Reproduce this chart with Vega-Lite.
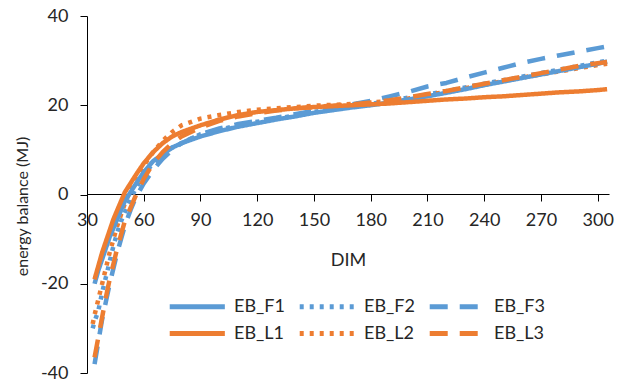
{
  "$schema": "https://vega.github.io/schema/vega-lite/v6.json",
  "width": 522,
  "height": 357,
  "autosize": "none",
  "padding": {"left": 87, "top": 16, "right": 10, "bottom": 6},
  "background": "white",
  "config": {
    "view": {"stroke": null},
    "font": "Lato",
    "axis": {"labelFont": "Lato", "titleFont": "Lato", "labelColor": "#262626", "titleColor": "#262626", "domainColor": "#000", "tickColor": "#000", "grid": false},
    "legend": {"title": null, "orient": "none", "legendX": 80, "legendY": 274, "columns": 3, "direction": "horizontal", "symbolType": "M-1,0L3,0", "symbolSize": 760, "symbolStrokeWidth": 5, "labelFontSize": 18, "labelFont": "Lato", "labelColor": "#262626", "columnPadding": 4, "rowPadding": 0, "labelOffset": 34, "padding": 0}
  },
  "data": {
    "values": [
      {"d": 33, "EB_F2": -30, "EB_L2": -29},
      {"d": 34, "EB_F1": -20, "EB_F2": -28.5, "EB_F3": -38, "EB_L1": -19, "EB_L2": -27, "EB_L3": -36.5},
      {"d": 36, "EB_F1": -17, "EB_F2": -26, "EB_F3": -33, "EB_L1": -16, "EB_L2": -23.5, "EB_L3": -32},
      {"d": 38, "EB_F1": -14.5, "EB_F2": -22, "EB_F3": -28, "EB_L1": -13, "EB_L2": -20, "EB_L3": -27.5},
      {"d": 40, "EB_F1": -12, "EB_F2": -18.5, "EB_F3": -24, "EB_L1": -10.5, "EB_L2": -16.5, "EB_L3": -23},
      {"d": 42, "EB_F1": -9.5, "EB_F2": -15, "EB_F3": -20, "EB_L1": -8, "EB_L2": -13, "EB_L3": -19},
      {"d": 44, "EB_F1": -7.5, "EB_F2": -11.5, "EB_F3": -16.5, "EB_L1": -5.5, "EB_L2": -10, "EB_L3": -15.5},
      {"d": 46, "EB_F1": -5.5, "EB_F2": -8.5, "EB_F3": -13, "EB_L1": -3.5, "EB_L2": -7, "EB_L3": -12},
      {"d": 48, "EB_F1": -3.5, "EB_F2": -6, "EB_F3": -10, "EB_L1": -1.5, "EB_L2": -4.5, "EB_L3": -9},
      {"d": 50, "EB_F1": -1.5, "EB_F2": -4, "EB_F3": -7, "EB_L1": 0.5, "EB_L2": -2, "EB_L3": -6},
      {"d": 53, "EB_F1": 0.5, "EB_F2": -1, "EB_F3": -3.5, "EB_L1": 2.5, "EB_L2": 1, "EB_L3": -3},
      {"d": 56, "EB_F1": 2.5, "EB_F2": 1.5, "EB_F3": -0.5, "EB_L1": 4.5, "EB_L2": 3.5, "EB_L3": 0},
      {"d": 60, "EB_F1": 5, "EB_F2": 4.5, "EB_F3": 2.5, "EB_L1": 7, "EB_L2": 6.5, "EB_L3": 3.5},
      {"d": 65, "EB_F1": 7.5, "EB_F2": 7, "EB_F3": 5.5, "EB_L1": 9.5, "EB_L2": 9.5, "EB_L3": 7},
      {"d": 70, "EB_F1": 9, "EB_F2": 9, "EB_F3": 8, "EB_L1": 11.5, "EB_L2": 12, "EB_L3": 9.5},
      {"d": 75, "EB_F1": 10.5, "EB_F2": 10.5, "EB_F3": 10, "EB_L1": 13, "EB_L2": 14, "EB_L3": 11.5},
      {"d": 80, "EB_F1": 11.5, "EB_F2": 11.5, "EB_F3": 11.5, "EB_L1": 14, "EB_L2": 15.5, "EB_L3": 13},
      {"d": 90, "EB_F1": 13, "EB_F2": 13.5, "EB_F3": 13.5, "EB_L1": 15.5, "EB_L2": 17, "EB_L3": 15},
      {"d": 100, "EB_F1": 14.2, "EB_F2": 14.5, "EB_F3": 14.8, "EB_L1": 16.8, "EB_L2": 17.8, "EB_L3": 16.5},
      {"d": 110, "EB_F1": 15.2, "EB_F2": 15.5, "EB_F3": 15.8, "EB_L1": 17.8, "EB_L2": 18.5, "EB_L3": 17.5},
      {"d": 120, "EB_F1": 16, "EB_F2": 16.3, "EB_F3": 16.5, "EB_L1": 18.5, "EB_L2": 19, "EB_L3": 18.2},
      {"d": 130, "EB_F1": 16.8, "EB_F2": 17, "EB_F3": 17.2, "EB_L1": 18.9, "EB_L2": 19.3, "EB_L3": 18.8},
      {"d": 140, "EB_F1": 17.5, "EB_F2": 17.7, "EB_F3": 18, "EB_L1": 19.3, "EB_L2": 19.6, "EB_L3": 19.3},
      {"d": 150, "EB_F1": 18.3, "EB_F2": 18.5, "EB_F3": 18.8, "EB_L1": 19.6, "EB_L2": 19.9, "EB_L3": 19.6},
      {"d": 160, "EB_F1": 18.9, "EB_F2": 19.1, "EB_F3": 19.5, "EB_L1": 19.8, "EB_L2": 20.1, "EB_L3": 19.9},
      {"d": 170, "EB_F1": 19.5, "EB_F2": 19.7, "EB_F3": 20.2, "EB_L1": 20, "EB_L2": 20.3, "EB_L3": 20.2},
      {"d": 180, "EB_F1": 20, "EB_F2": 20.3, "EB_F3": 21, "EB_L1": 20.2, "EB_L2": 20.6, "EB_L3": 20.6},
      {"d": 190, "EB_F1": 20.6, "EB_F2": 21, "EB_F3": 22, "EB_L1": 20.4, "EB_L2": 21, "EB_L3": 21.1},
      {"d": 200, "EB_F1": 21.3, "EB_F2": 21.7, "EB_F3": 23, "EB_L1": 20.7, "EB_L2": 21.5, "EB_L3": 21.8},
      {"d": 210, "EB_F1": 22, "EB_F2": 22.4, "EB_F3": 24.2, "EB_L1": 21, "EB_L2": 22.3, "EB_L3": 22.5},
      {"d": 220, "EB_F1": 22.8, "EB_F2": 23.2, "EB_F3": 25, "EB_L1": 21.3, "EB_L2": 23, "EB_L3": 23.2},
      {"d": 230, "EB_F1": 23.6, "EB_F2": 24, "EB_F3": 26.2, "EB_L1": 21.5, "EB_L2": 23.8, "EB_L3": 24},
      {"d": 240, "EB_F1": 24.5, "EB_F2": 24.8, "EB_F3": 27.3, "EB_L1": 21.8, "EB_L2": 24.6, "EB_L3": 24.8},
      {"d": 250, "EB_F1": 25.3, "EB_F2": 25.6, "EB_F3": 28.4, "EB_L1": 22, "EB_L2": 25.4, "EB_L3": 25.6},
      {"d": 260, "EB_F1": 26.1, "EB_F2": 26.4, "EB_F3": 29.5, "EB_L1": 22.3, "EB_L2": 26.2, "EB_L3": 26.4},
      {"d": 270, "EB_F1": 26.9, "EB_F2": 27.2, "EB_F3": 30.4, "EB_L1": 22.6, "EB_L2": 26.9, "EB_L3": 27.2},
      {"d": 280, "EB_F1": 27.7, "EB_F2": 28, "EB_F3": 31.2, "EB_L1": 22.9, "EB_L2": 27.6, "EB_L3": 28},
      {"d": 290, "EB_F1": 28.5, "EB_F2": 28.8, "EB_F3": 32, "EB_L1": 23.1, "EB_L2": 28.3, "EB_L3": 28.8},
      {"d": 300, "EB_F1": 29.3, "EB_F2": 29.6, "EB_F3": 32.8, "EB_L1": 23.4, "EB_L2": 29, "EB_L3": 29.4},
      {"d": 305, "EB_F1": 29.8, "EB_F2": 30, "EB_F3": 33.2, "EB_L1": 23.6, "EB_L2": 29.3, "EB_L3": 29.7}
    ]
  },
  "transform": [
    {"fold": ["EB_F1", "EB_F2", "EB_F3", "EB_L1", "EB_L2", "EB_L3"], "as": ["series", "v"]},
    {"filter": "isValid(datum.v)"}
  ],
  "mark": {"type": "line", "strokeWidth": 4.5, "strokeCap": "butt", "strokeJoin": "round"},
  "encoding": {
    "x": {
      "field": "d", "type": "quantitative",
      "scale": {"domain": [30, 306], "nice": false, "zero": false},
      "axis": {"title": "DIM", "values": [30, 60, 90, 120, 150, 180, 210, 240, 270, 300], "offset": -179, "tickSize": 7, "labelPadding": 10, "labelFontSize": 18, "titleFontSize": 18, "titleFontWeight": "normal", "titlePadding": 22, "labelFlush": false}
    },
    "y": {
      "field": "v", "type": "quantitative",
      "scale": {"domain": [-40, 40], "nice": false},
      "axis": {"title": "energy balance (MJ)", "values": [-40, -20, 0, 20, 40], "labelExpr": "toString(datum.value)", "tickSize": 7, "labelPadding": 12, "labelFontSize": 18, "titleFontSize": 16, "titleFontWeight": "normal", "titlePadding": 10, "titleY": 190}
    },
    "color": {
      "field": "series", "type": "nominal",
      "scale": {"domain": ["EB_F1", "EB_F2", "EB_F3", "EB_L1", "EB_L2", "EB_L3"], "range": ["#5B9BD5", "#5B9BD5", "#5B9BD5", "#ED7D31", "#ED7D31", "#ED7D31"]}
    },
    "strokeDash": {
      "field": "series", "type": "nominal",
      "scale": {"domain": ["EB_F1", "EB_F2", "EB_F3", "EB_L1", "EB_L2", "EB_L3"], "range": [[1, 0], [4, 6], [18, 12], [1, 0], [4, 6], [18, 12]]}
    }
  }
}
